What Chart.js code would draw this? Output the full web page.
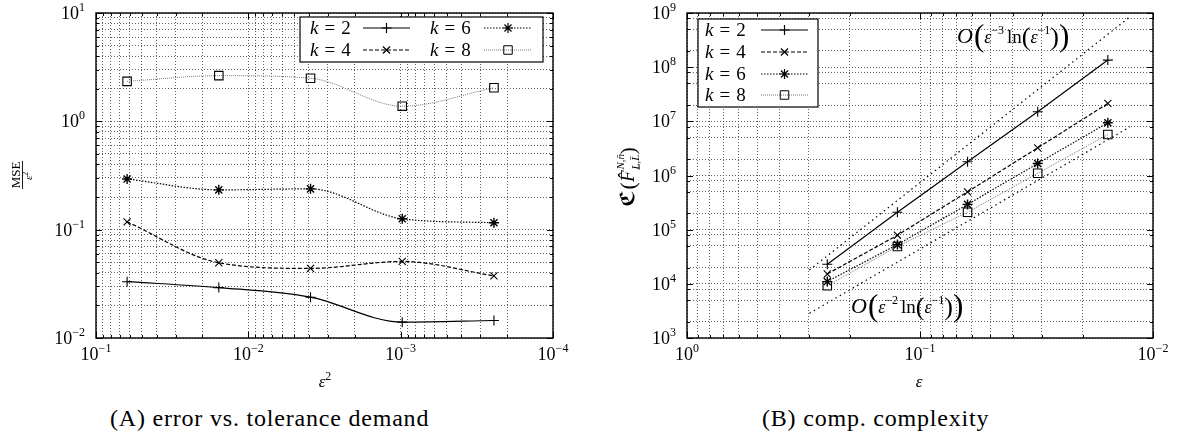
<!DOCTYPE html>
<html>
<head>
<meta charset="utf-8">
<script src="https://cdn.jsdelivr.net/npm/chart.js@4.4.1/dist/chart.umd.min.js"></script>
<style>
body { margin: 0; background: #fff; width: 1182px; height: 436px; overflow: hidden; position: relative; font-family: "Liberation Serif", serif; }
#chartA { position: absolute; left: 0; top: 0; }
#chartB { position: absolute; left: 580px; top: 0; }
.cap { position: absolute; top: 404px; font-size: 24px; line-height: 28px; letter-spacing: 0.8px; white-space: nowrap; color: #000; }
</style>
</head>
<body>
<canvas id="chartA" width="580" height="400" style="width:580px;height:400px"></canvas>
<canvas id="chartB" width="602" height="400" style="width:602px;height:400px"></canvas>
<div class="cap" style="left:110px">(A) error vs. tolerance demand</div>
<div class="cap" style="left:762px">(B) comp. complexity</div>
<script>
// x values
const epsSq = [1/16, 1/64, 1/256, 1/1024, 1/4096];
const eps = [1/4, 1/8, 1/16, 1/32, 1/64];

// (A) MSE / eps^2
const mseK2 = [0.0331, 0.0292, 0.0238, 0.0140, 0.0145];
const mseK4 = [0.118, 0.0495, 0.0439, 0.0509, 0.0375];
const mseK6 = [0.294, 0.233, 0.238, 0.126, 0.116];
const mseK8 = [2.34, 2.64, 2.50, 1.38, 2.04];

// (B) cost
const costK2 = [2.3e4, 2.1e5, 1.79e6, 1.5e7, 1.35e8];
const costK4 = [1.52e4, 7.9e4, 5.0e5, 3.24e6, 2.14e7];
const costK6 = [1.1e4, 5.3e4, 2.93e5, 1.67e6, 9.4e6];
const costK8 = [9.2e3, 4.9e4, 2.1e5, 1.1e6, 5.7e6];

// reference slopes (end points)
const refHighEps = [0.2985, 0.01256];
const refHighCost = [1.8e4, 8.5e8];
const refLowEps = [0.298, 0.01256];
const refLowCost = [2.86e3, 7.9e6];

// tick labels: 10 to these exponents
const xDecadesA = [1e-4, 1e-3, 1e-2, 1e-1];
const xExpA = ['−4', '−3', '−2', '−1'];
const yDecadesA = [1e-2, 1e-1, 1, 10];
const yExpA = ['−2', '−1', '0', '1'];
const xDecadesB = [1e-2, 1e-1, 1];
const xExpB = ['−2', '−1', '0'];
const yDecadesB = [1e3, 1e4, 1e5, 1e6, 1e7, 1e8, 1e9];
const yExpB = ['3', '4', '5', '6', '7', '8', '9'];
const minorStd = [2, 3, 4, 5, 6, 7, 8, 9];
const minorB = [2, 5, 8];

const SERIF = '"Liberation Serif", "DejaVu Serif", serif';
const GRID = '#606060';

function tickValues(decades, minors) {
    const out = [];
    decades.forEach((d, i) => {
        out.push(d);
        if (i < decades.length - 1) minors.forEach(m => out.push(d * m));
    });
    return out;
}

function isDecade(v) {
    const l = Math.log10(v);
    return Math.abs(l - Math.round(l)) < 1e-9;
}

function pts(xs, ys) {
    return xs.map((x, i) => ({ x: x, y: ys[i] }));
}

function logAxis(o) {
    const vals = tickValues(o.decades, o.minors);
    return {
        type: 'logarithmic',
        min: o.decades[0],
        max: o.decades[o.decades.length - 1],
        reverse: !!o.reverse,
        decades: o.decades,
        exps: o.exps,
        afterBuildTicks: s => { s.ticks = vals.map(v => ({ value: v, major: isDecade(v) })); },
        afterFit: s => { if (o.horizontal) s.height = o.size; else s.width = o.size; },
        ticks: { display: false, autoSkip: false, maxRotation: 0 },
        grid: { color: GRID, lineWidth: 1, drawTicks: false },
        border: { display: false, dash: [1, 2] }
    };
}

function drawRich(ctx, parts, x, y) {
    let cx = x;
    parts.forEach(p => {
        ctx.font = p.f;
        ctx.fillText(p.t, cx, y + (p.dy || 0));
        if (p.adv !== false) cx += ctx.measureText(p.t).width + (p.sp || 0);
    });
    return cx - x;
}

function richWidth(ctx, parts) {
    let w = 0;
    parts.forEach(p => {
        ctx.font = p.f;
        if (p.adv !== false) w += ctx.measureText(p.t).width + (p.sp || 0);
    });
    return w;
}

function powerParts(exp) {
    return [
        { t: '10', f: '18px ' + SERIF },
        { t: exp, f: '12px ' + SERIF, dy: -8 }
    ];
}

// frame, ticks on all four sides, decade labels
const framePlugin = {
    id: 'frame',
    afterDatasetsDraw(chart) {
        const { ctx, chartArea: a, scales } = chart;
        ctx.save();
        ctx.setLineDash([]);
        ctx.strokeStyle = '#000';
        ctx.lineWidth = 1;
        ctx.beginPath();
        scales.x.ticks.forEach(t => {
            const px = Math.round(scales.x.getPixelForValue(t.value)) + 0.5;
            const len = isDecade(t.value) ? 6 : 3;
            ctx.moveTo(px, a.bottom); ctx.lineTo(px, a.bottom - len);
            ctx.moveTo(px, a.top); ctx.lineTo(px, a.top + len);
        });
        scales.y.ticks.forEach(t => {
            const py = Math.round(scales.y.getPixelForValue(t.value)) + 0.5;
            const len = isDecade(t.value) ? 6 : 3;
            ctx.moveTo(a.left, py); ctx.lineTo(a.left + len, py);
            ctx.moveTo(a.right, py); ctx.lineTo(a.right - len, py);
        });
        ctx.stroke();
        ctx.lineWidth = 1.4;
        ctx.strokeRect(a.left, a.top, a.right - a.left, a.bottom - a.top);

        ctx.fillStyle = '#000';
        ctx.textAlign = 'left';
        ctx.textBaseline = 'alphabetic';
        const xo = scales.x.options, yo = scales.y.options;
        xo.decades.forEach((d, i) => {
            const parts = powerParts(xo.exps[i]);
            const w = richWidth(ctx, parts);
            drawRich(ctx, parts, scales.x.getPixelForValue(d) - w / 2, a.bottom + 22);
        });
        yo.decades.forEach((d, i) => {
            const parts = powerParts(yo.exps[i]);
            const w = richWidth(ctx, parts);
            drawRich(ctx, parts, a.left - 11 - w, scales.y.getPixelForValue(d) + 6);
        });
        ctx.restore();
    }
};

// boxed legend with line samples, axis titles, annotations
const extrasPlugin = {
    id: 'extras',
    afterDraw(chart, args, opts) {
        const ctx = chart.ctx;
        ctx.save();
        ctx.textBaseline = 'alphabetic';
        ctx.textAlign = 'left';

        const b = opts.box;
        ctx.setLineDash([]);
        ctx.fillStyle = '#fff';
        ctx.fillRect(b[0], b[1], b[2] - b[0], b[3] - b[1]);
        ctx.strokeStyle = '#000';
        ctx.lineWidth = 1.2;
        ctx.strokeRect(b[0], b[1], b[2] - b[0], b[3] - b[1]);
        ctx.fillStyle = '#000';

        opts.items.forEach(it => {
            const ds = chart.data.datasets[it.ds];
            drawRich(ctx, [
                { t: 'k', f: 'italic 19px ' + SERIF, sp: 6 },
                { t: '=', f: '19px ' + SERIF, sp: 6 },
                { t: ds.kName, f: '19px ' + SERIF }
            ], it.tx, it.y + 6);
            ctx.strokeStyle = ds.borderColor;
            ctx.lineWidth = ds.borderWidth;
            ctx.setLineDash(ds.borderDash || []);
            ctx.beginPath();
            ctx.moveTo(it.s1, it.y);
            ctx.lineTo(it.s2, it.y);
            ctx.stroke();
            ctx.setLineDash([]);
            ctx.strokeStyle = '#000';
            ctx.fillStyle = 'rgba(0,0,0,0)';
            Chart.helpers.drawPoint(ctx, {
                pointStyle: ds.pointStyle, radius: ds.pointRadius,
                borderWidth: ds.pointBorderWidth, rotation: 0
            }, (it.s1 + it.s2) / 2, it.y);
            ctx.fillStyle = '#000';
        });

        // x title
        const xw = richWidth(ctx, opts.xTitle);
        drawRich(ctx, opts.xTitle, opts.xTitlePos[0] - xw / 2, opts.xTitlePos[1]);

        // y title (rotated)
        ctx.save();
        ctx.translate(opts.yTitlePos[0], opts.yTitlePos[1]);
        ctx.rotate(-Math.PI / 2);
        if (opts.yFraction) {
            ctx.textAlign = 'center';
            ctx.font = '13px ' + SERIF;
            ctx.fillText('MSE', 0, -3);
            ctx.fillRect(-14, -0.5, 28, 0.9);
            ctx.textAlign = 'left';
            drawRich(ctx, [{ t: 'ε', f: 'italic 11px ' + SERIF }, { t: '2', f: '8px ' + SERIF, dy: -4 }], -5, 9);
        } else {
            const w = richWidth(ctx, opts.yTitle);
            drawRich(ctx, opts.yTitle, -w / 2, 0);
        }
        ctx.restore();

        (opts.notes || []).forEach(n => drawRich(ctx, n.parts, n.x, n.y));
        ctx.restore();
    }
};

function series(name, data, style) {
    return Object.assign({
        kName: name,
        data: data,
        borderColor: '#000',
        borderWidth: 1.2,
        borderDash: [],
        pointBorderColor: '#000',
        pointBackgroundColor: 'rgba(0,0,0,0)',
        pointRadius: 5,
        pointBorderWidth: 1.1,
        fill: false
    }, style);
}

const styleK2 = { pointStyle: 'cross' };
const styleK4 = { pointStyle: 'crossRot', borderDash: [4, 2] };
const styleK6 = { pointStyle: 'star', borderDash: [1.5, 1.5], pointBorderWidth: 1.4 };
const styleK8 = { pointStyle: 'rect', pointRadius: 6, borderColor: '#777', borderWidth: 1, borderDash: [1, 1] };
const smooth = { cubicInterpolationMode: 'monotone' };

const refStyle = {
    borderColor: '#000', borderWidth: 1.2, borderDash: [1.5, 3.5],
    pointRadius: 0, pointHoverRadius: 0, fill: false, tension: 0
};

function annotation(x, y, power) {
    return {
        x: x, y: y, parts: [
            { t: 'O', f: 'italic 22px ' + SERIF, sp: 1 },
            { t: '(', f: '31px ' + SERIF, dy: 3 },
            { t: 'ε', f: 'italic 18px ' + SERIF },
            { t: power, f: '12px ' + SERIF, dy: -9, sp: 3 },
            { t: 'ln', f: '19px ' + SERIF },
            { t: '(', f: '26px ' + SERIF, dy: 2 },
            { t: 'ε', f: 'italic 18px ' + SERIF },
            { t: '−1', f: '12px ' + SERIF, dy: -9 },
            { t: ')', f: '26px ' + SERIF, dy: 2 },
            { t: ')', f: '31px ' + SERIF, dy: 3 }
        ]
    };
}

Chart.defaults.font.family = SERIF;
Chart.defaults.color = '#000';

new Chart(document.getElementById('chartA'), {
    type: 'line',
    data: {
        datasets: [
            series('2', pts(epsSq, mseK2), Object.assign({}, smooth, styleK2)),
            series('4', pts(epsSq, mseK4), Object.assign({}, smooth, styleK4)),
            series('6', pts(epsSq, mseK6), Object.assign({}, smooth, styleK6)),
            series('8', pts(epsSq, mseK8), Object.assign({}, smooth, styleK8))
        ]
    },
    options: {
        responsive: false,
        animation: false,
        layout: { padding: { left: 0, right: 27, top: 13, bottom: 0 } },
        plugins: {
            legend: { display: false },
            tooltip: { enabled: false },
            extras: {
                box: [300, 17, 543, 62],
                items: [
                    { ds: 0, tx: 310, y: 28, s1: 363, s2: 410 },
                    { ds: 1, tx: 310, y: 50, s1: 363, s2: 410 },
                    { ds: 2, tx: 430, y: 28, s1: 484, s2: 532 },
                    { ds: 3, tx: 430, y: 50, s1: 484, s2: 532 }
                ],
                xTitle: [{ t: 'ε', f: 'italic 17px ' + SERIF }, { t: '2', f: '12px ' + SERIF, dy: -7 }],
                xTitlePos: [325, 387],
                yFraction: true,
                yTitlePos: [22.5, 175]
            }
        },
        scales: {
            x: logAxis({ decades: xDecadesA, exps: xExpA, minors: minorStd, reverse: true, horizontal: true, size: 62 }),
            y: logAxis({ decades: yDecadesA, exps: yExpA, minors: minorStd, size: 96 })
        }
    },
    plugins: [framePlugin, extrasPlugin]
});

new Chart(document.getElementById('chartB'), {
    type: 'line',
    data: {
        datasets: [
            series('2', pts(eps, costK2), styleK2),
            series('4', pts(eps, costK4), styleK4),
            series('6', pts(eps, costK6), styleK6),
            series('8', pts(eps, costK8), styleK8),
            Object.assign({ data: pts(refHighEps, refHighCost) }, refStyle),
            Object.assign({ data: pts(refLowEps, refLowCost) }, refStyle)
        ]
    },
    options: {
        responsive: false,
        animation: false,
        layout: { padding: { left: 0, right: 29, top: 13, bottom: 0 } },
        plugins: {
            legend: { display: false },
            tooltip: { enabled: false },
            extras: {
                box: [118, 19, 238, 107],
                items: [
                    { ds: 0, tx: 125, y: 30, s1: 181, s2: 228 },
                    { ds: 1, tx: 125, y: 52, s1: 181, s2: 228 },
                    { ds: 2, tx: 125, y: 74, s1: 181, s2: 228 },
                    { ds: 3, tx: 125, y: 95, s1: 181, s2: 228 }
                ],
                xTitle: [{ t: 'ε', f: 'italic 17px ' + SERIF }],
                xTitlePos: [339, 387],
                yFraction: false,
                yTitlePos: [54, 177],
                yTitle: [
                    { t: 'ℭ', f: 'bold 20px "DejaVu Serif", "DejaVu Sans", serif', sp: 1 },
                    { t: '(', f: '22px ' + SERIF, dy: 1 },
                    { t: 'F̂', f: 'italic 19px ' + SERIF, sp: 1 },
                    { t: 'N,n̄', f: 'italic 11px ' + SERIF, dy: -10, adv: false },
                    { t: 'L̲,L̄', f: 'italic 11px ' + SERIF, dy: 5 },
                    { t: ')', f: '22px ' + SERIF, dy: 1 }
                ],
                notes: [
                    annotation(377, 43, '−3'),
                    annotation(271, 313, '−2')
                ]
            }
        },
        scales: {
            x: logAxis({ decades: xDecadesB, exps: xExpB, minors: minorStd, reverse: true, horizontal: true, size: 62 }),
            y: logAxis({ decades: yDecadesB, exps: yExpB, minors: minorB, size: 107 })
        }
    },
    plugins: [framePlugin, extrasPlugin]
});
</script>
</body>
</html>
